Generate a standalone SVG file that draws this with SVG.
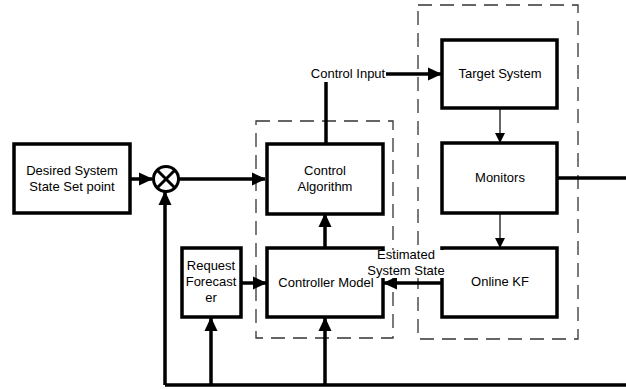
<svg xmlns="http://www.w3.org/2000/svg" width="626" height="389" viewBox="0 0 626 389">
<style>
.box{fill:#fff;stroke:#000;stroke-width:3.5}
.dash{fill:none;stroke:#333;stroke-width:1.3;stroke-dasharray:14,8}
.thick{fill:none;stroke:#000;stroke-width:3.5}
.thin{fill:none;stroke:#000;stroke-width:1.2}
text{font-family:"Liberation Sans",Arial,sans-serif;font-size:13px;fill:#000;text-anchor:middle}
</style>
<defs>
<marker id="ah" markerWidth="14" markerHeight="14" refX="13" refY="7" orient="auto" markerUnits="userSpaceOnUse"><path d="M0,0.5 L14,7 L0,13.5 z" fill="#000"/></marker>
<marker id="at" markerWidth="10" markerHeight="10" refX="9" refY="5" orient="auto" markerUnits="userSpaceOnUse"><path d="M0,0 L10,5 L0,10 z" fill="#000"/></marker>
</defs>
<rect width="626" height="389" fill="#fff"/>
<g id="groups">
<rect class="dash" x="256" y="121" width="137" height="217"/>
<rect class="dash" x="418" y="5" width="160" height="334"/>
</g>
<g id="connectors">
<path class="thick" d="M130,179 H152" marker-end="url(#ah)"/>
<path class="thick" d="M179,179 H265" marker-end="url(#ah)"/>
<path class="thick" d="M326,144 V82"/>
<path class="thick" d="M386,74 H441" marker-end="url(#ah)"/>
<path class="thin" d="M500,108 V142" marker-end="url(#at)"/>
<path class="thin" d="M500,213 V247" marker-end="url(#at)"/>
<path class="thick" d="M557,178 H630 M165,385 H630"/>
<path class="thick" d="M165,385 V192" marker-end="url(#ah)"/>
<path class="thick" d="M211,385 V318" marker-end="url(#ah)"/>
<path class="thick" d="M325,385 V318" marker-end="url(#ah)"/>
<path class="thick" d="M325,247 V214" marker-end="url(#ah)"/>
<path class="thick" d="M241,283 H266" marker-end="url(#ah)"/>
<path class="thick" d="M442,283 H384" marker-end="url(#ah)"/>
</g>
<g id="sum">
<circle cx="166" cy="179" r="12.5" fill="#fff" stroke="#000" stroke-width="3"/>
<path d="M157,170 L175,188 M175,170 L157,188" stroke="#000" stroke-width="3"/>
</g>
<g id="desired"><rect class="box" x="14" y="144" width="116" height="69"/><text x="72" y="175">Desired System</text><text x="72" y="191">State Set point</text></g>
<g id="control-algorithm"><rect class="box" x="267" y="144" width="116" height="70"/><text x="325" y="175">Control</text><text x="325" y="191">Algorithm</text></g>
<g id="controller-model"><rect class="box" x="267" y="248" width="116" height="69"/><text x="326" y="287">Controller Model</text></g>
<g id="request-forecaster"><rect class="box" x="182" y="248" width="59" height="69"/><text x="211" y="270">Request</text><text x="211" y="286">Forecast</text><text x="211" y="302">er</text></g>
<g id="target-system"><rect class="box" x="442" y="40" width="115" height="68"/><text x="500" y="78">Target System</text></g>
<g id="monitors"><rect class="box" x="442" y="143" width="115" height="70"/><text x="500" y="182">Monitors</text></g>
<g id="online-kf"><rect class="box" x="442" y="248" width="115" height="69"/><text x="500" y="286">Online KF</text></g>
<g id="labels">
<rect x="367" y="250" width="77" height="28" fill="#fff"/>
<text x="406" y="259">Estimated</text>
<text x="406" y="275">System State</text>
<rect x="308" y="65" width="78" height="16" fill="#fff"/>
<text x="348" y="78">Control Input</text>
</g>
</svg>
